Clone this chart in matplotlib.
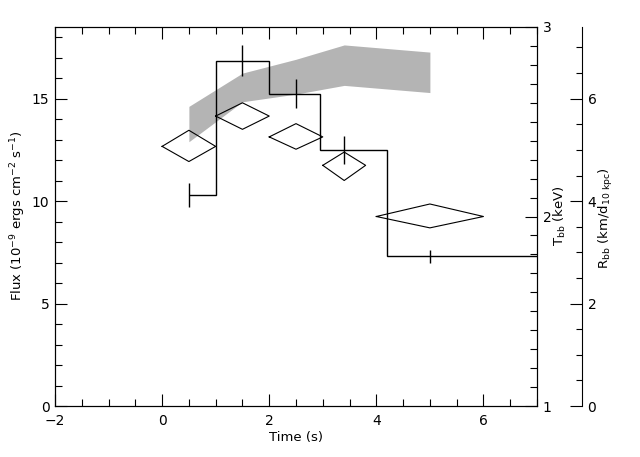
import matplotlib
matplotlib.use("Agg")
import matplotlib.pyplot as plt
from matplotlib.ticker import MultipleLocator, FixedLocator

plt.rcParams['font.family'] = ['DejaVu Sans']
plt.rcParams['font.size'] = 10

# Flux light curve (histogram style)
flux_time = [0.5, 1.5, 2.5, 3.4, 5.0]
flux = [10.3, 16.85, 15.25, 12.5, 7.3]
flux_err = [0.6, 0.75, 0.7, 0.67, 0.33]
flux_edges = [0.5, 1.0, 2.0, 2.95, 4.2, 7.0]

# Blackbody temperature (diamonds)
T_left = [0.0, 1.0, 2.0, 3.0, 4.0]
T_center = [0.5, 1.5, 2.5, 3.4, 5.0]
T_right = [1.0, 2.0, 3.0, 3.8, 6.0]
T_bb = [2.37, 2.53, 2.42, 2.27, 2.0]
T_lo = [2.29, 2.46, 2.355, 2.19, 1.94]
T_hi = [2.455, 2.60, 2.49, 2.34, 2.066]

# Blackbody radius band
R_time = [0.5, 1.5, 2.5, 3.4, 5.0]
R_lo = [5.16, 5.94, 6.09, 6.26, 6.12]
R_hi = [5.85, 6.50, 6.77, 7.05, 6.91]

W, H = 640, 457
fig = plt.figure(figsize=(W / 100, H / 100), dpi=100)
L, R, T, B = 55, 537, 27, 406
ax = fig.add_axes([L / W, 1 - B / H, (R - L) / W, (B - T) / H])

lw = 0.8
# R band on its own axis (drawn first, below)
ax3 = ax.twinx()
ax3.fill_between(R_time, R_lo, R_hi, color='#b4b4b4', lw=0)
ax3.set_ylim(0, 7.4)
ax3.set_zorder(0)
ax.set_zorder(1)
ax.patch.set_visible(False)

# Flux histogram
ax.stairs(flux, flux_edges, baseline=None, color='black', lw=1.0)
ax.errorbar(flux_time, flux, yerr=flux_err, fmt='none', ecolor='black',
            elinewidth=1.0, capsize=0)
ax.set_xlim(-2, 7)
ax.set_ylim(0, 18.5)
ax.xaxis.set_major_locator(MultipleLocator(2))
ax.xaxis.set_minor_locator(MultipleLocator(0.5))
ax.yaxis.set_major_locator(MultipleLocator(5))
ax.yaxis.set_minor_locator(MultipleLocator(1))
ax.tick_params(which='both', direction='in', top=True, right=False,
               width=lw, labelsize=10)
ax.tick_params(which='major', length=8.4)
ax.tick_params(which='minor', length=4.8)
ax.tick_params(axis='x', pad=6)
ax.tick_params(axis='y', pad=4)
for s in ax.spines.values():
    s.set_linewidth(lw)

# Temperature axis
ax2 = ax.twinx()
ax2.set_zorder(2)
for l, c, r, t, lo, hi in zip(T_left, T_center, T_right, T_bb, T_lo, T_hi):
    ax2.plot([l, c, r, c, l], [t, hi, t, lo, t], color='black', lw=0.8)
ax2.set_ylim(1, 3)
ax2.yaxis.set_major_locator(FixedLocator([1, 2, 3]))
ax2.yaxis.set_minor_locator(MultipleLocator(0.1))
ax2.tick_params(which='both', direction='in', width=lw, labelsize=10, pad=4)
ax2.tick_params(which='major', length=8.4)
ax2.tick_params(which='minor', length=4.8)
for s in ax2.spines.values():
    s.set_linewidth(lw)

# Radius axis spine
ax3.spines['right'].set_position(('axes', (582 - L) / (R - L)))
for k in ['left', 'top', 'bottom']:
    ax3.spines[k].set_visible(False)
ax3.spines['right'].set_linewidth(lw)
ax3.yaxis.set_major_locator(MultipleLocator(2))
ax3.yaxis.set_minor_locator(MultipleLocator(0.5))
ax3.tick_params(which='both', direction='in', width=lw, labelsize=10, pad=4)
ax3.tick_params(which='major', length=8.4)
ax3.tick_params(which='minor', length=4.1)

# Labels
fs = 9.5
fig.text(18 / W, 1 - 216 / H, r'Flux (10$^{-9}$ ergs cm$^{-2}$ s$^{-1}$)',
         rotation=90, ha='center', va='center', fontsize=fs)
fig.text(296 / W, 1 - 438 / H, 'Time (s)', ha='center', va='center', fontsize=fs)
fig.text(560 / W, 1 - 216 / H, r'T$_{\rm bb}$ (keV)', rotation=90,
         ha='center', va='center', fontsize=fs)
fig.text(606 / W, 1 - 218 / H, r'R$_{\rm bb}$ (km/d$_{\rm 10\ kpc}$)', rotation=90,
         ha='center', va='center', fontsize=fs)

fig.savefig('out.png', dpi=100)
